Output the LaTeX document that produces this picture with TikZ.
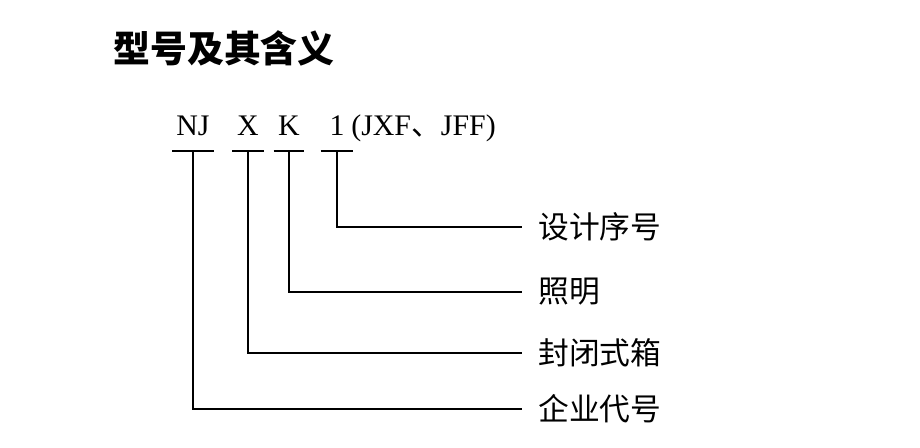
\documentclass[tikz,border=0pt]{standalone}
\usepackage{fontspec}
\setmainfont{Liberation Serif}
\newfontfamily\cjk{Noto Sans CJK SC}
\usetikzlibrary{positioning}
\tikzstyle{title} = [anchor = west, inner sep = 0, font = \cjk\bfseries\fontsize{21}{21}\selectfont]
\tikzstyle{code} = [anchor = base, inner xsep = 0, inner ysep = 0, text height = 0.36cm, text depth = 0.32cm, font = \fontsize{17}{17}\selectfont]
\tikzstyle{rest} = [anchor = base west, inner sep = 0, font = \fontsize{17}{17}\selectfont]
\tikzstyle{meaning} = [anchor = west, inner xsep = 0.32cm, inner ysep = 0, font = \cjk\fontsize{17.5}{17.5}\selectfont]
\tikzstyle{line} = [line width = 1pt]

\begin{document}
\begin{tikzpicture}[x = 0.02cm, y = 0.02cm]
    \useasboundingbox (0,0) rectangle (920,447);
    % \node(name)[style] at (x,y){text};
    \node(title)[title] at (113,399){型号及其含义};
    \node(nj)[code, minimum width = 0.82cm] at (193,312){NJ};
    \node(x)[code, minimum width = 0.62cm] at (248,312){X};
    \node(k)[code, minimum width = 0.6cm] at (289,312){K};
    \node(one)[code, minimum width = 0.64cm] at (337,312){1};
    \node(rest)[rest] at (351,312){(JXF{\cjk 、}JFF)};

    \node(seq)[meaning] at (522,220){设计序号};
    \node(light)[meaning] at (522,155){照明};
    \node(box)[meaning] at (522,94){封闭式箱};
    \node(firm)[meaning] at (522,38){企业代号};

    \draw[line](nj.south west)--(nj.south east);
    \draw[line](x.south west)--(x.south east);
    \draw[line](k.south west)--(k.south east);
    \draw[line](one.south west)--(one.south east);
    \draw[line](one.south)|-(seq.west);
    \draw[line](k.south)|-(light.west);
    \draw[line](x.south)|-(box.west);
    \draw[line](nj.south)|-(firm.west);
\end{tikzpicture}
\end{document}
